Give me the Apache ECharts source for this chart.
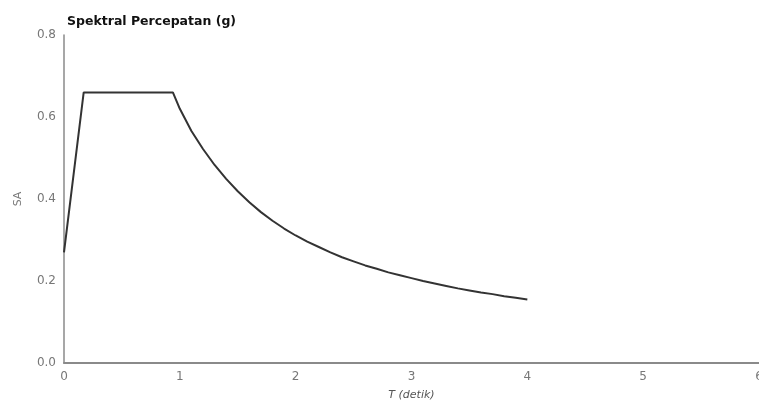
<!DOCTYPE html>
<html><head><meta charset="utf-8">
<script src="https://cdn.jsdelivr.net/npm/echarts@6/dist/echarts.min.js"></script>
<style>html,body{margin:0;padding:0;background:#fff;overflow:hidden}#c{width:759px;height:413px}</style>
</head><body><div id="c"></div>
<script>
var periods = [0, 0.17, 0.94, 1.0, 1.1, 1.2, 1.3, 1.4, 1.5, 1.6, 1.7, 1.8, 1.9, 2.0, 2.1, 2.2, 2.3, 2.4, 2.5, 2.6, 2.7, 2.8, 2.9, 3.0, 3.1, 3.2, 3.3, 3.4, 3.5, 3.6, 3.7, 3.8, 3.9, 4.0];
var saValues = [0.27, 0.66, 0.66, 0.62, 0.566, 0.522, 0.483, 0.449, 0.419, 0.392, 0.368, 0.347, 0.328, 0.311, 0.296, 0.283, 0.27, 0.258, 0.248, 0.238, 0.23, 0.221, 0.214, 0.207, 0.2, 0.194, 0.188, 0.182, 0.177, 0.172, 0.168, 0.163, 0.159, 0.155];
var titleText = 'Spektral Percepatan (g)';
var xName = 'T (detik)';
var yName = 'SA';

var chart = echarts.init(document.getElementById('c'));
chart.setOption({
  animation: false,
  title: { text: titleText, left: 62, top: 10, textStyle: { fontFamily: 'DejaVu Sans', fontSize: 12.5, fontWeight: 'bold', color: '#111' } },
  grid: { left: 64, right: 0, top: 35, bottom: 50, containLabel: false, outerBoundsMode: 'none' },
  xAxis: {
    type: 'value', min: 0, max: 6, interval: 1,
    name: xName, nameLocation: 'middle', nameGap: 27,
    nameTextStyle: { fontFamily: 'DejaVu Sans', fontSize: 11, fontStyle: 'italic', color: '#555' },
    axisLine: { lineStyle: { color: '#8a8a8a', width: 2 } },
    axisTick: { show: false },
    splitLine: { show: false },
    axisLabel: { fontFamily: 'DejaVu Sans', fontSize: 12, color: '#777', margin: 8 }
  },
  yAxis: {
    type: 'value', min: 0, max: 0.8, interval: 0.2,
    name: yName, nameLocation: 'middle', nameGap: 40,
    nameTextStyle: { fontFamily: 'DejaVu Sans', fontSize: 11, color: '#777' },
    axisLine: { show: true, lineStyle: { color: '#8a8a8a', width: 1.5 } },
    axisTick: { show: false },
    splitLine: { show: false },
    axisLabel: { fontFamily: 'DejaVu Sans', fontSize: 12, color: '#777', margin: 8,
      formatter: function (v) { return v.toFixed(1); } }
  },
  series: [{
    type: 'line',
    data: periods.map(function (t, i) { return [t, saValues[i]]; }),
    showSymbol: false, smooth: false,
    lineStyle: { color: '#333', width: 2 }
  }]
});
</script></body></html>
